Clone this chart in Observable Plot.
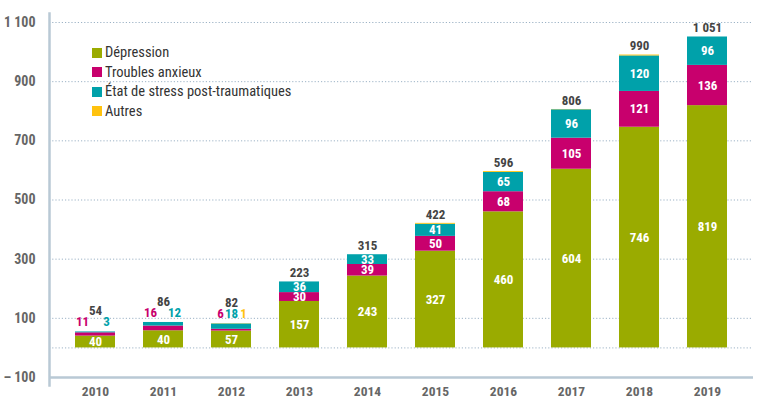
<!DOCTYPE html>
<html>
<head>
<meta charset="utf-8">
<script src="https://cdn.jsdelivr.net/npm/d3@7"></script>
<script src="https://cdn.jsdelivr.net/npm/@observablehq/plot@0.6"></script>
<style>
  body { margin: 0; background: #fff; }
  #wrap { position: relative; width: 760px; height: 406px; font-family: "Roboto Condensed", sans-serif; }
  #legend { position: absolute; left: 92px; top: 43px; font-size: 14.5px; color: #333; }
  #legend .item { display: flex; align-items: center; height: 19.5px; }
  #legend .sw { width: 10px; height: 10px; margin-right: 3px; }
</style>
</head>
<body>
<div id="wrap"></div>
<script>
const years = ["2010","2011","2012","2013","2014","2015","2016","2017","2018","2019"];
const depression = [40, 58, 57, 157, 243, 327, 460, 604, 746, 819];
const depressionLabels = ["40", "40", "57", "157", "243", "327", "460", "604", "746", "819"];
const anxiety = [11, 16, 6, 30, 39, 50, 68, 105, 121, 136];
const ptsd = [3, 12, 18, 36, 33, 41, 65, 96, 120, 96];
const others = [0, 0, 1, 0, 0, 3, 3, 1, 3, 0];
const totalLabels = ["54", "86", "82", "223", "315", "422", "596", "806", "990", "1 051"];
const seriesNames = ["Dépression", "Troubles anxieux", "État de stress post-traumatiques", "Autres"];
const seriesColors = ["#9aab00", "#c8006d", "#00a1aa", "#ffc20e"];
const yTicks = [-100, 100, 300, 500, 700, 900, 1100];
const yTickLabels = ["– 100", "100", "300", "500", "700", "900", "1 100"];
const gridValues = [0, 100, 300, 500, 700, 900, 1100];
const smallYears = ["2010", "2011", "2012"];

const seriesValues = [depression, anxiety, ptsd, others];
const rows = [];
const insideLabels = [];
const aboveLabels = [];
const totals = [];
years.forEach((yr, i) => {
  let cum = 0;
  const small = smallYears.includes(yr);
  seriesValues.forEach((vals, s) => {
    const v = vals[i];
    rows.push({year: yr, series: seriesNames[s], value: v});
    const txt = s === 0 ? depressionLabels[i] : String(v);
    if (s === 0 || (!small && s < 3)) {
      insideLabels.push({year: yr, y: cum + v / 2, text: txt});
    }
    cum += v;
  });
  totals.push({year: yr, y: cum, text: totalLabels[i], small});
  if (small) {
    const present = [1, 2, 3].filter(s => seriesValues[s][i] > 0);
    const n = present.length;
    present.forEach((s, k) => {
      const slot = n === 2 ? (k === 0 ? "L2" : "R2") : ["L3", "C3", "R3"][k];
      aboveLabels.push({year: yr, y: cum, text: String(seriesValues[s][i]), color: seriesColors[s], slot});
    });
  }
});

const slotDx = {L2: -13, R2: 11, L3: -11, C3: 0, R3: 12};
const fontFam = '"Roboto Condensed", sans-serif';
const aboveMarks = Object.keys(slotDx).map(slot =>
  Plot.text(aboveLabels.filter(d => d.slot === slot), {x: "year", y: "y", text: "text", fill: "color", dx: slotDx[slot], dy: -10, fontWeight: "bold", fontSize: 13})
);

const chart = Plot.plot({
  width: 760,
  height: 406,
  marginLeft: 49,
  marginRight: 7,
  marginTop: 22,
  marginBottom: 29,
  style: {fontFamily: fontFam},
  x: {domain: years, paddingInner: 0.413, paddingOuter: 0.337},
  y: {domain: [-100, 1100]},
  color: {domain: seriesNames, range: seriesColors},
  marks: [
    Plot.ruleY(gridValues, {stroke: "#9db3c6", strokeDasharray: "1.2,2", strokeWidth: 1}),
    Plot.barY(rows, {x: "year", y: "value", fill: "series", order: seriesNames}),
    Plot.ruleY([-100], {stroke: "#b9c9d5", strokeWidth: 2.5}),
    Plot.frame({anchor: "left", stroke: "#b9c9d5", strokeWidth: 2.5, insetTop: -9, insetBottom: -8}),
    Plot.text(insideLabels, {x: "year", y: "y", text: "text", fill: "white", fontWeight: "bold", fontSize: 13}),
    ...aboveMarks,
    Plot.text(totals.filter(d => d.small), {x: "year", y: "y", text: "text", fill: "#444", fontWeight: "bold", fontSize: 13, dy: -21}),
    Plot.text(totals.filter(d => !d.small), {x: "year", y: "y", text: "text", fill: "#444", fontWeight: "bold", fontSize: 13, dy: -9}),
    Plot.axisY(yTicks, {tickSize: 0, tickPadding: 14, tickFormat: d => yTickLabels[yTicks.indexOf(d)], fontWeight: "bold", fill: "#666", fontSize: 14}),
    Plot.axisX({tickSize: 0, tickPadding: 9, fontWeight: "bold", fill: "#666", fontSize: 13.5, label: null})
  ]
});

const wrap = document.getElementById("wrap");
wrap.appendChild(chart);
const legend = document.createElement("div");
legend.id = "legend";
seriesNames.forEach((name, i) => {
  const item = document.createElement("div");
  item.className = "item";
  const sw = document.createElement("span");
  sw.className = "sw";
  sw.style.background = seriesColors[i];
  const t = document.createElement("span");
  t.textContent = name;
  item.appendChild(sw);
  item.appendChild(t);
  legend.appendChild(item);
});
wrap.appendChild(legend);
</script>
</body>
</html>
